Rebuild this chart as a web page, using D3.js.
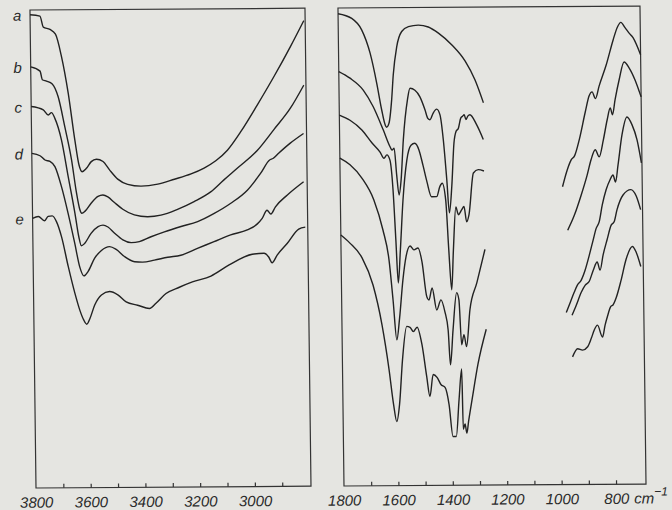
<!DOCTYPE html>
<html>
<head>
<meta charset="utf-8">
<script src="https://cdn.jsdelivr.net/npm/d3@7"></script>
<style>
  body { margin: 0; background: #e5e5e1; }
  svg { display: block; }
  .lbl { font-family: "Liberation Sans", Arial, sans-serif; font-style: italic; fill: #2a2a2a; }
</style>
</head>
<body>
<div id="chart"></div>
<script>
(function () {

const width = 672, height = 510;

// sample labels (one trace per sample, offset vertically)
const samples = ["a", "b", "c", "d", "e"];

// tick labels
const ohLabels = [3800, 3600, 3400, 3200, 3000];
const ohTicks = [3700, 3600, 3500, 3400, 3300, 3200, 3100, 3000, 2900];
const fpLabels = [1800, 1600, 1400, 1200, 1000, 800];
const fpTicks = [1700, 1600, 1500, 1400, 1300, 1200, 1100, 1000, 900, 800];

// O-H stretching region, [wavenumber, transmittance (arb.)]
const ohA = [[3800,99.0],[3764,98.7],[3752,96.4],[3728,95.9],[3708,94.9],[3687,90.2],[3664,82.5],[3642,72.7],[3628,67.5],[3617,66.1],[3601,66.8],[3583,68.2],[3564,68.7],[3540,68.2],[3516,66.4],[3487,64.5],[3451,63.4],[3402,63.0],[3341,63.4],[3280,64.4],[3219,65.5],[3171,66.7],[3128,68.2],[3085,70.4],[3036,74.2],[2974,79.8],[2912,85.7],[2850,92.0],[2800,97.4]];
const ohB = [[3800,88.1],[3766,87.2],[3758,85.4],[3743,85.1],[3722,84.5],[3701,81.8],[3678,75.5],[3655,68.6],[3639,61.9],[3627,58.2],[3620,57.4],[3607,57.9],[3584,59.6],[3560,60.9],[3542,61.2],[3524,60.8],[3500,59.6],[3470,58.2],[3428,57.0],[3379,56.6],[3331,56.9],[3270,58.1],[3209,59.7],[3148,61.7],[3099,64.2],[3050,66.6],[2976,70.3],[2915,74.6],[2853,79.1],[2803,83.9]];
const ohC = [[3800,79.8],[3756,79.1],[3738,78.0],[3726,78.5],[3714,77.3],[3691,72.8],[3668,65.1],[3645,57.4],[3632,52.5],[3623,50.6],[3611,51.1],[3587,53.2],[3561,54.6],[3543,54.9],[3525,54.5],[3501,53.2],[3471,51.8],[3441,51.2],[3411,51.4],[3368,52.4],[3319,53.4],[3258,54.5],[3197,55.5],[3136,57.2],[3075,59.3],[3014,62.0],[2965,65.5],[2931,68.3],[2919,68.6],[2898,69.7],[2855,71.8],[2806,73.8]];
const ohD = [[3800,70.0],[3770,69.5],[3752,68.6],[3734,68.3],[3716,67.2],[3693,63.0],[3670,57.4],[3647,51.1],[3630,46.2],[3615,44.3],[3600,45.2],[3575,48.0],[3550,49.6],[3520,50.4],[3496,49.8],[3466,48.3],[3429,47.2],[3400,47.1],[3357,47.5],[3308,48.1],[3260,48.5],[3199,49.9],[3138,51.3],[3077,52.7],[3016,53.7],[2980,54.9],[2961,56.1],[2943,57.8],[2929,57.0],[2912,58.5],[2869,60.9],[2808,63.7]];
const ohE = [[3800,56.4],[3779,56.8],[3757,55.9],[3743,56.8],[3728,56.9],[3713,55.7],[3695,52.5],[3672,46.3],[3649,40.7],[3632,37.2],[3618,35.1],[3607,34.2],[3595,35.4],[3577,38.2],[3552,40.3],[3522,41.0],[3492,40.3],[3462,38.8],[3420,38.1],[3377,37.4],[3353,38.5],[3316,40.5],[3267,41.8],[3219,42.9],[3151,44.1],[3084,46.4],[2999,48.6],[2956,48.8],[2939,48.0],[2927,46.8],[2908,48.4],[2871,50.8],[2828,53.8],[2804,54.2]];

// 1800-1270 cm-1 region
const midA = [[1800,98.8],[1750,97.8],[1714,95.4],[1684,90.5],[1661,84.2],[1644,78.6],[1632,75.5],[1627,75.0],[1618,75.8],[1607,80.7],[1600,85.9],[1586,91.8],[1567,95.0],[1542,96.0],[1506,96.3],[1469,95.9],[1432,94.6],[1383,92.1],[1335,88.7],[1300,84.8],[1270,80.0]];
const midB = [[1800,86.7],[1759,85.3],[1711,82.8],[1675,79.3],[1639,74.4],[1615,70.9],[1608,70.2],[1600,70.6],[1592,65.0],[1584,60.8],[1576,63.9],[1566,72.3],[1549,80.7],[1539,83.1],[1521,82.7],[1503,81.3],[1485,78.6],[1475,76.8],[1467,76.5],[1455,77.9],[1442,78.7],[1430,77.5],[1419,72.3],[1408,63.9],[1400,57.0],[1390,62.5],[1380,71.6],[1372,74.0],[1363,74.7],[1354,76.8],[1347,77.2],[1341,77.5],[1335,76.5],[1328,77.2],[1320,77.5],[1296,75.4],[1272,72.3]];
const midC = [[1800,77.6],[1761,76.5],[1717,74.4],[1681,71.7],[1652,69.8],[1638,68.5],[1627,69.2],[1616,68.1],[1606,61.8],[1598,51.4],[1591,42.4],[1582,49.2],[1570,59.7],[1554,68.1],[1538,71.2],[1524,71.6],[1509,70.2],[1495,67.0],[1481,63.5],[1465,60.4],[1446,60.4],[1434,62.5],[1425,63.2],[1413,59.7],[1404,49.3],[1395,40.9],[1387,49.2],[1376,58.2],[1367,56.6],[1355,57.6],[1346,58.3],[1337,55.1],[1328,56.6],[1310,65.3],[1292,66.0],[1271,65.7]];
const midD = [[1800,68.6],[1763,67.2],[1720,64.4],[1677,59.8],[1645,53.5],[1624,47.2],[1611,38.8],[1599,30.5],[1588,35.0],[1574,43.0],[1561,48.0],[1546,50.1],[1532,49.3],[1517,49.7],[1503,46.8],[1487,39.5],[1479,38.8],[1467,41.3],[1451,36.7],[1435,38.8],[1421,36.3],[1410,32.5],[1403,25.2],[1392,32.5],[1377,40.3],[1369,38.8],[1361,29.4],[1352,31.5],[1343,29.0],[1329,36.7],[1302,42.4],[1271,49.3]];
const midE = [[1800,52.5],[1767,50.8],[1723,47.7],[1684,42.0],[1653,33.7],[1629,24.3],[1614,17.0],[1603,13.4],[1592,17.0],[1579,26.4],[1562,33.3],[1550,33.1],[1538,32.2],[1524,33.1],[1507,29.5],[1491,22.8],[1480,18.6],[1467,23.2],[1453,22.6],[1439,21.1],[1424,20.5],[1410,16.9],[1397,10.2],[1385,10.2],[1373,18.0],[1362,24.3],[1359,11.7],[1352,12.8],[1346,10.9],[1339,13.4],[1325,18.0],[1302,25.3],[1270,32.6]];

// 980-690 cm-1 region
const lowA = [[983,62.3],[965,65.8],[950,67.9],[937,68.8],[919,72.2],[896,77.9],[881,81.3],[870,82.1],[858,80.7],[844,83.3],[817,87.7],[790,93.0],[775,95.5],[761,96.6],[746,95.5],[732,94.4],[717,93.4],[690,89.8]];
const lowB = [[966,53.2],[941,56.3],[915,60.5],[892,64.7],[877,67.9],[861,70.0],[847,68.5],[831,72.0],[816,76.2],[804,78.7],[796,77.3],[786,80.4],[770,84.6],[751,88.3],[733,87.1],[712,84.6],[690,81.0]];
const lowC = [[975,36.0],[960,38.1],[945,40.2],[933,41.7],[919,42.7],[904,44.8],[888,47.9],[873,51.1],[861,53.6],[850,54.9],[838,58.4],[823,61.6],[808,63.7],[797,64.7],[788,63.2],[778,66.8],[762,73.1],[743,76.8],[725,75.2],[707,72.0],[692,67.2]];
const lowD = [[954,35.4],[938,37.5],[919,40.2],[904,41.7],[889,42.5],[874,44.8],[859,46.5],[849,44.8],[837,48.0],[822,51.1],[806,54.2],[795,54.9],[784,57.4],[761,60.5],[732,61.6],[713,60.3],[697,57.4]];
const lowE = [[954,26.7],[935,28.4],[917,28.1],[898,28.8],[884,30.6],[873,32.3],[861,33.3],[843,30.8],[833,33.3],[824,35.1],[811,37.2],[803,37.5],[791,39.0],[772,42.7],[753,47.0],[729,49.7],[716,48.6],[699,45.5]];

const ohSeries = [ohA, ohB, ohC, ohD, ohE];
const fpSeries = [midA, midB, midC, midD, midE, lowA, lowB, lowC, lowD, lowE];

const svg = d3.select("#chart").append("svg")
    .attr("width", width)
    .attr("height", height);

// the scanned figure is slightly sheared, so the whole plot is too
const g = svg.append("g")
    .attr("transform", "matrix(1,-0.0065,0.0126,1,-6.15,0.23)");

// scales
const xOH = d3.scaleLinear().domain([3800, 2795]).range([36, 311]);
const xFP = d3.scaleLinear().domain([1800, 690]).range([344, 646]);
const y = d3.scaleLinear().domain([0, 100]).range([488, 10]);

// frames
[xOH, xFP].forEach(sc => {
  g.append("rect")
    .attr("x", sc.range()[0])
    .attr("y", y.range()[1])
    .attr("width", sc.range()[1] - sc.range()[0])
    .attr("height", y.range()[0] - y.range()[1])
    .attr("fill", "none")
    .attr("stroke", "#333")
    .attr("stroke-width", 1.2);
});

// inward ticks
function ticks(sc, vals) {
  g.append("g")
    .attr("transform", `translate(0,${y.range()[0]})`)
    .call(d3.axisBottom(sc).tickValues(vals).tickSizeInner(-4).tickSizeOuter(0).tickFormat(""))
    .call(a => a.select(".domain").remove())
    .selectAll("line").attr("stroke", "#333").attr("stroke-width", 1.2);
}
ticks(xOH, ohTicks);
ticks(xFP, fpTicks);

// tick labels
function labels(sc, vals) {
  g.append("g")
    .attr("transform", `translate(0,${y.range()[0]})`)
    .call(d3.axisBottom(sc).tickValues(vals).tickSize(0).tickPadding(9).tickFormat(d3.format("d")))
    .call(a => a.select(".domain").remove())
    .selectAll("text")
      .attr("class", "lbl")
      .attr("font-size", 15);
}
labels(xOH, ohLabels);
labels(xFP, fpLabels);

// unit after the last label
const unit = g.append("text")
    .attr("class", "lbl")
    .attr("font-size", 15)
    .attr("x", xFP(800) + 18)
    .attr("y", y.range()[0] + 19.5);
unit.append("tspan").text("cm");
unit.append("tspan").attr("dy", -8).attr("font-size", 12).text("−1");

// traces
const lineOH = d3.line().x(d => xOH(d[0])).y(d => y(d[1])).curve(d3.curveMonotoneX);
const lineFP = d3.line().x(d => xFP(d[0])).y(d => y(d[1])).curve(d3.curveMonotoneX);

g.append("g").selectAll("path")
  .data(ohSeries)
  .join("path")
    .attr("d", lineOH)
    .attr("fill", "none")
    .attr("stroke", "#222")
    .attr("stroke-width", 1.4);

g.append("g").selectAll("path")
  .data(fpSeries)
  .join("path")
    .attr("d", lineFP)
    .attr("fill", "none")
    .attr("stroke", "#222")
    .attr("stroke-width", 1.4);

// sample letters next to the start of each trace
g.append("g").selectAll("text")
  .data(samples)
  .join("text")
    .attr("class", "lbl")
    .attr("font-size", 15)
    .attr("text-anchor", "middle")
    .attr("x", xOH(3800) - 13)
    .attr("y", (d, i) => y(ohSeries[i][0][1]) + 6)
    .text(d => d);

})()
</script>
</body>
</html>
